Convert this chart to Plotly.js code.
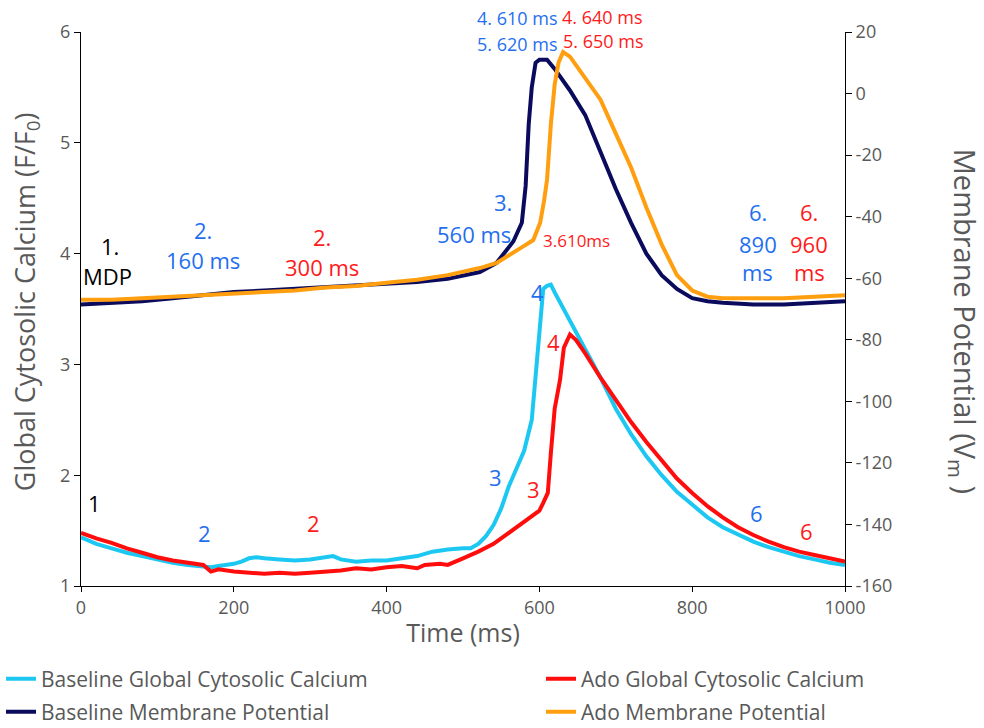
<!DOCTYPE html>
<html><head><meta charset="utf-8">
<script src="https://cdn.plot.ly/plotly-3.0.1.min.js"></script>
<style>body{margin:0;background:#fff}#chart{width:984px;height:728px}</style>
</head><body><div id="chart"></div>
<script>
// Time axis (ms) and series values
const caBaseT = [0,20,40,60,80,100,120,140,160,170,180,200,210,220,230,240,260,280,300,320,330,340,360,380,400,420,440,460,480,500,510,520,530,540,550,560,570,580,590,595,600,605,610,615,620,630,640,660,680,700,720,740,760,780,800,820,840,860,880,900,920,940,960,980,1000];
const caBase  = [1.44,1.38,1.34,1.30,1.27,1.24,1.21,1.19,1.18,1.17,1.18,1.20,1.22,1.25,1.26,1.25,1.24,1.23,1.24,1.26,1.27,1.24,1.22,1.23,1.23,1.25,1.27,1.31,1.33,1.34,1.34,1.38,1.45,1.55,1.70,1.90,2.05,2.22,2.50,2.90,3.30,3.68,3.71,3.72,3.65,3.52,3.40,3.14,2.88,2.60,2.37,2.17,2.00,1.85,1.73,1.62,1.53,1.46,1.40,1.35,1.31,1.27,1.24,1.21,1.19];

const caAdoT = [0,20,40,60,80,100,120,140,160,170,180,200,220,240,260,280,300,320,340,360,380,400,420,440,450,470,480,500,520,540,560,570,580,590,600,605,611,615,620,627,632,640,648,660,680,700,720,740,760,780,800,820,840,860,880,900,920,940,960,980,1000];
const caAdo  = [1.48,1.43,1.39,1.34,1.30,1.26,1.23,1.21,1.19,1.13,1.15,1.13,1.12,1.11,1.12,1.11,1.12,1.13,1.14,1.16,1.15,1.17,1.18,1.16,1.19,1.20,1.19,1.25,1.31,1.38,1.48,1.52,1.57,1.62,1.68,1.75,1.84,2.20,2.60,2.86,3.15,3.27,3.22,3.10,2.88,2.68,2.48,2.30,2.13,1.97,1.84,1.72,1.62,1.53,1.46,1.40,1.35,1.31,1.28,1.25,1.22];

const vmBaseT = [0,40,80,120,160,200,240,280,320,360,400,440,480,500,522,544,566,577,582,586,590,595,600,610,620,640,660,680,700,720,740,760,780,800,820,840,880,920,960,1000];
const vmBase  = [-68.5,-68,-67.5,-66.5,-65.5,-64.5,-64,-63.5,-63,-62.5,-62,-61.2,-60.2,-59.3,-58,-55,-48,-42,-30,-10,2,10,11,11,8,1,-7,-19,-31,-42,-52,-59,-63.5,-66.5,-67.5,-68,-68.5,-68.5,-68,-67.5];

const vmAdoT = [0,40,80,120,160,200,240,280,320,360,400,440,480,500,522,544,566,580,592,601,606,610,615,620,625,631,640,660,680,700,720,740,760,780,800,820,840,880,920,960,1000];
const vmAdo  = [-67,-67,-66.5,-66,-65.5,-65,-64.5,-64,-63,-62.5,-61.5,-60.5,-59,-58,-56.7,-55,-51.8,-49.5,-47.6,-42,-35,-28,-10,3,10,13.5,12,5,-2,-13,-24,-37,-49,-59,-64,-66,-66.5,-66.5,-66.5,-66,-65.5];

const seriesNames = ["Baseline Global Cytosolic Calcium","Ado Global Cytosolic Calcium","Baseline Membrane Potential","Ado Membrane Potential"];
const seriesColors = ["#1CC8F2","#FF0D0D","#0B0B5E","#FF9E0F"];

const y2TickVals = [-160,-140,-120,-100,-80,-60,-40,-20,0,20];
const y2TickText = ["-160","-140","-120","-100","-80","-60","-40","-20","0","20"];

const BLUE = "#1F6FEF", RED = "#FF1A1A", BLACK = "#000000";
// labels in data coords: [text, t, y(left axis), color, size]
const labels = [
  ["1.",38,4.07,BLACK,22],["MDP",35,3.80,BLACK,22],
  ["2.",160,4.21,BLUE,22],["160 ms",160,3.94,BLUE,22],
  ["2.",315,4.15,RED,22],["300 ms",315,3.88,RED,22],
  ["3.",552,4.47,BLUE,22],["560 ms",514,4.18,BLUE,22],
  ["3.610ms",649,4.12,RED,17],
  ["6.",886,4.375,BLUE,22],["890",886,4.09,BLUE,22],["ms",886,3.83,BLUE,22],
  ["6.",953,4.375,RED,22],["960",953,4.09,RED,22],["ms",953,3.83,RED,22],
  ["1",18,1.75,BLACK,22],["2",161,1.48,BLUE,22],["2",304,1.57,RED,22],
  ["3",543,1.98,BLUE,22],["3",592,1.88,RED,22],["4",597,3.65,BLUE,22],["4",618,3.2,RED,22],
  ["6",884,1.66,BLUE,22],["6",949,1.50,RED,22]
];
// labels above the plot: [text, t, paper y, color, size]
const topLabels = [
  ["4. 610 ms",571,1.025,BLUE,18],["5. 620 ms",571,0.978,BLUE,18],
  ["4. 640 ms",682,1.027,RED,18],["5. 650 ms",684,0.984,RED,18]
];

const FONT = "'Open Sans', sans-serif";
const GREY = "#595959";

const traces = [
  {x:caBaseT,y:caBase,name:seriesNames[0],line:{color:seriesColors[0],width:4},yaxis:"y",legend:"legend"},
  {x:caAdoT,y:caAdo,name:seriesNames[1],line:{color:seriesColors[1],width:4},yaxis:"y",legend:"legend2"},
  {x:vmBaseT,y:vmBase,name:seriesNames[2],line:{color:seriesColors[2],width:4},yaxis:"y2",legend:"legend3"},
  {x:vmAdoT,y:vmAdo,name:seriesNames[3],line:{color:seriesColors[3],width:4},yaxis:"y2",legend:"legend4"}
].map(t=>Object.assign({type:"scatter",mode:"lines"},t));

const annotations = labels.map(l=>({text:l[0],x:l[1],y:l[2],xref:"x",yref:"y",showarrow:false,
  font:{family:FONT,size:l[4],color:l[3]},xanchor:"center",yanchor:"middle"}))
 .concat(topLabels.map(l=>({text:l[0],x:l[1],y:l[2],xref:"x",yref:"paper",showarrow:false,
  font:{family:FONT,size:l[4],color:l[3]},xanchor:"center",yanchor:"middle"})));
annotations.push({text:"Membrane Potential (V<sub>m</sub> )",xref:"paper",yref:"paper",x:1.155,y:0.478,
  showarrow:false,textangle:90,font:{family:FONT,size:29,color:GREY},xanchor:"center",yanchor:"middle"});
annotations.push({text:"Global Cytosolic Calcium (F/F<sub>0</sub>)",xref:"paper",yref:"paper",x:-0.072,y:0.514,
  showarrow:false,textangle:-90,font:{family:FONT,size:27,color:GREY},xanchor:"center",yanchor:"middle"});

function leg(xpx,ypx){return {orientation:"h",xref:"container",yref:"container",x:xpx/984,y:1-ypx/728,
  xanchor:"left",yanchor:"middle",font:{family:FONT,size:21,color:GREY},bgcolor:"rgba(0,0,0,0)",itemwidth:30};}

const layout = {
  width:984,height:728,
  margin:{l:81,r:139,t:32,b:142},
  paper_bgcolor:"#fff",plot_bgcolor:"#fff",
  font:{family:FONT,color:GREY},
  showlegend:true,
  legend:leg(1,679), legend2:leg(541,679), legend3:leg(1,712), legend4:leg(541,712),
  xaxis:{range:[0,1000],dtick:200,tick0:0,showgrid:false,zeroline:false,showline:true,linecolor:"#000",linewidth:1,
    ticks:"outside",ticklen:5,tickcolor:"#000",tickfont:{family:FONT,size:18,color:GREY},
    title:{text:"Time (ms)",font:{family:FONT,size:25,color:GREY},standoff:6}},
  yaxis:{range:[1,6],dtick:1,showgrid:false,zeroline:false,showline:true,linecolor:"#000",linewidth:1,
    ticks:"outside",ticklen:6,tickcolor:"#000",tickfont:{family:FONT,size:18,color:GREY}},
  yaxis2:{range:[-160,20],tickmode:"array",tickvals:y2TickVals,ticktext:y2TickText,overlaying:"y",side:"right",anchor:"x",
    showgrid:false,zeroline:false,showline:true,
    linecolor:"#000",linewidth:1,ticks:"outside",ticklen:6,tickcolor:"#000",tickfont:{family:FONT,size:18,color:GREY}},
  annotations:annotations
};
Plotly.newPlot("chart",traces,layout,{displayModeBar:false,staticPlot:true});
</script></body></html>
